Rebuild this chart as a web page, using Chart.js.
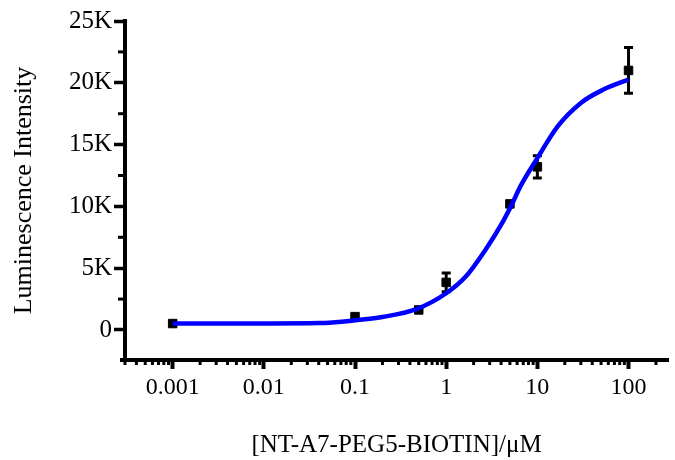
<!DOCTYPE html>
<html>
<head>
<meta charset="utf-8">
<script src="https://cdn.jsdelivr.net/npm/chart.js@4.4.1/dist/chart.umd.min.js"></script>
<style>
  html, body { margin: 0; padding: 0; background: #fff; overflow: hidden; }
  canvas { display: block; }
</style>
</head>
<body>
<canvas id="myChart" width="675" height="460"></canvas>
<script>
	// measured points, mean and SD
	var concentration = [0.001, 0.1, 0.5, 1, 5, 10, 100];
	var intensity = [520, 1080, 1620, 3850, 10200, 13200, 21000];
	var sd = [0, 0, 0, 750, 0, 900, 1850];

	// fitted dose-response curve
	var fitX = [0.001, 0.01, 0.04, 0.1, 0.2, 0.47, 1, 1.64, 2.69, 4.1, 5.2, 6.6, 10, 16.7, 30, 53, 100];
	var fitY = [520, 530, 560, 780, 1050, 1680, 2970, 4320, 6480, 8650, 10100, 11700, 13900, 16470, 18370, 19450, 20260];

	var xTicks = [0.001, 0.01, 0.1, 1, 10, 100];
	var xTickLabels = ["0.001", "0.01", "0.1", "1", "10", "100"];
	var yTicks = [0, 5000, 10000, 15000, 20000, 25000];
	var yTickLabels = ["0", "5K", "10K", "15K", "20K", "25K"];

	Chart.defaults.font.family = "'Liberation Serif', 'Times New Roman', serif";
	Chart.defaults.color = '#000';

	// vertical SD bars with caps, drawn under the datasets
	var errorBars = {
		id: 'errorBars',
		beforeDatasetsDraw: function(chart) {
			var ctx = chart.ctx, x = chart.scales.x, y = chart.scales.y;
			ctx.save();
			ctx.strokeStyle = '#000';
			ctx.lineWidth = 3;
			for (var i = 0; i < concentration.length; i++) {
				if (!sd[i]) continue;
				var px = x.getPixelForValue(concentration[i]);
				var top = y.getPixelForValue(intensity[i] + sd[i]);
				var bot = y.getPixelForValue(intensity[i] - sd[i]);
				ctx.beginPath();
				ctx.moveTo(px, top); ctx.lineTo(px, bot);
				ctx.moveTo(px - 4.5, top); ctx.lineTo(px + 4.5, top);
				ctx.moveTo(px - 4.5, bot); ctx.lineTo(px + 4.5, bot);
				ctx.stroke();
			}
			ctx.restore();
		}
	};

	// short minor ticks on both axes
	var minorTicks = {
		id: 'minorTicks',
		afterDraw: function(chart) {
			var ctx = chart.ctx, area = chart.chartArea, x = chart.scales.x, y = chart.scales.y;
			ctx.save();
			ctx.fillStyle = '#000';
			for (var v = 2500; v < 25000; v += 5000) {
				var py = y.getPixelForValue(v);
				ctx.fillRect(area.left - 7, py - 1.5, 7, 3);
			}
			for (var d = -4; d <= 2; d++) {
				for (var m = 2; m <= 9; m++) {
					var val = m * Math.pow(10, d);
					if (val < x.min || val > x.max) continue;
					var px = x.getPixelForValue(val);
					ctx.fillRect(px - 1.5, area.bottom, 3, 5);
				}
			}
			// x axis line runs a little past the y axis
			ctx.fillRect(area.left - 5, area.bottom - 2, 5, 4);
			ctx.restore();
		}
	};

	var chart = new Chart(document.getElementById('myChart'), {
		type: 'scatter',
		data: {
			datasets: [{
				type: 'line',
				label: 'Fit',
				data: fitX.map(function(v, i) { return {x: v, y: fitY[i]}; }),
				borderColor: '#0000ff',
				borderWidth: 4.5,
				pointRadius: 0,
				cubicInterpolationMode: 'monotone',
				fill: false,
				order: 0
			}, {
				label: 'Luminescence',
				data: concentration.map(function(v, i) { return {x: v, y: intensity[i]}; }),
				backgroundColor: '#000',
				borderColor: '#000',
				borderWidth: 1,
				pointStyle: 'rect',
				pointRadius: 6,
				order: 1
			}]
		},
		options: {
			responsive: false,
			animation: false,
			layout: { padding: { top: 21, right: 0, bottom: 0, left: 0 } },
			plugins: {
				legend: { display: false },
				tooltip: { enabled: false }
			},
			scales: {
				x: {
					type: 'logarithmic',
					min: 0.000305,
					max: 271,
					afterBuildTicks: function(scale) {
						scale.ticks = xTicks.map(function(v) { return {value: v}; });
					},
					afterFit: function(scale) {
						scale.height = 100;
						scale.paddingLeft = 0;
						scale.paddingRight = 0;
					},
					border: { display: true, color: '#000', width: 4 },
					grid: { drawOnChartArea: false, drawTicks: true, tickLength: 9, tickWidth: 4, tickColor: '#000' },
					ticks: {
						padding: 4,
						maxRotation: 0,
						autoSkip: false,
						font: { size: 24 },
						callback: function(value, index) { return xTickLabels[index]; }
					},
					title: {
						display: true,
						text: '[NT-A7-PEG5-BIOTIN]/μM',
						font: { size: 25 },
						padding: { top: 12, bottom: 0 }
					}
				},
				y: {
					min: -2430,
					max: 25000,
					afterBuildTicks: function(scale) {
						scale.ticks = yTicks.map(function(v) { return {value: v}; });
					},
					afterFit: function(scale) { scale.width = 125; },
					border: { display: true, color: '#000', width: 4 },
					grid: { drawOnChartArea: false, drawTicks: true, tickLength: 11, tickWidth: 3.5, tickColor: '#000' },
					ticks: {
						padding: 2,
						font: { size: 25 },
						callback: function(value, index) { return yTickLabels[index]; }
					},
					title: {
						display: true,
						text: 'Luminescence Intensity',
						font: { size: 26 },
						padding: { top: 9, bottom: 0 }
					}
				}
			}
		},
		plugins: [errorBars, minorTicks]
	});
</script>
</body>
</html>
